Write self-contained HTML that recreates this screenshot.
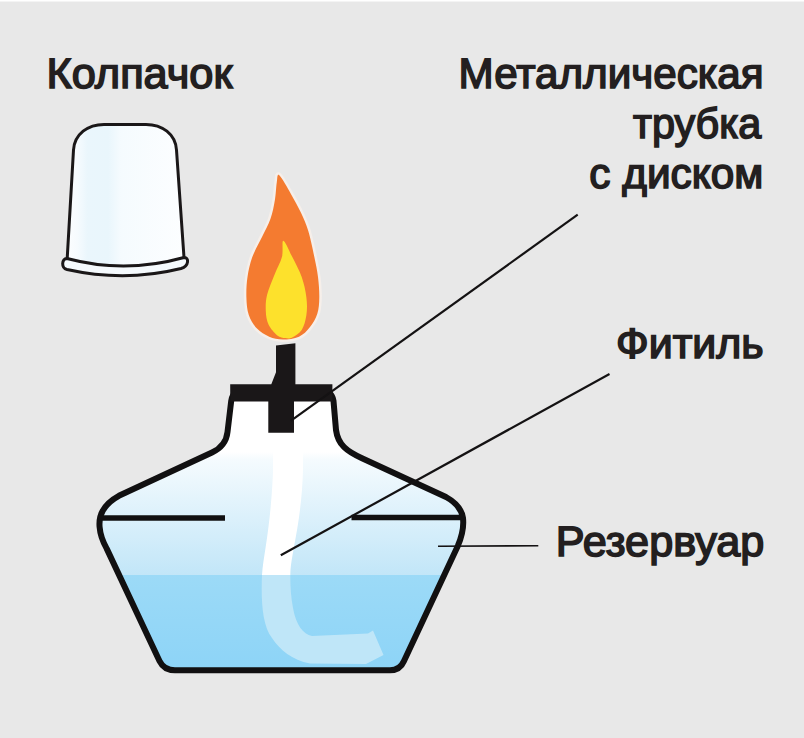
<!DOCTYPE html>
<html><head><meta charset="utf-8">
<style>
html,body{margin:0;padding:0;background:#e8e8e8;}
body{width:804px;height:738px;overflow:hidden;position:relative;}
svg{position:absolute;left:0;top:0;}
text{font-family:"Liberation Sans",sans-serif;fill:#231f20;text-rendering:geometricPrecision;}
</style></head><body>
<svg width="804" height="738" viewBox="0 0 804 738">
<defs>
  <linearGradient id="capg" x1="62" y1="0" x2="190" y2="0" gradientUnits="userSpaceOnUse">
    <stop offset="0" stop-color="#ffffff"/>
    <stop offset="0.12" stop-color="#f6fbfe"/>
    <stop offset="0.2" stop-color="#eaf6fc"/>
    <stop offset="0.36" stop-color="#e9f6fc"/>
    <stop offset="0.46" stop-color="#f5fbfe"/>
    <stop offset="1" stop-color="#fdfeff"/>
  </linearGradient>
  <linearGradient id="waterTop" x1="0" y1="452" x2="0" y2="575" gradientUnits="userSpaceOnUse">
    <stop offset="0" stop-color="#ffffff"/>
    <stop offset="0.06" stop-color="#f5fbfe"/>
    <stop offset="1" stop-color="#c2e6f8"/>
  </linearGradient>
  <linearGradient id="waterBot" x1="0" y1="575" x2="0" y2="672" gradientUnits="userSpaceOnUse">
    <stop offset="0" stop-color="#9cdaf7"/>
    <stop offset="1" stop-color="#8dd4f7"/>
  </linearGradient>
  <clipPath id="bodyclip"><path d="M230.5 388 L227.5 432 Q226 446 212 452.5 L118.9 495.8 C104 504 98.5 515 99.6 527 C100.3 536 103 542 106.7 548.6 L159.5 661 Q164 670.3 175 670.3 L390 670.3 Q400 670.3 404 661 L457.8 545.9 C462 536 464 527 463 518 C461.5 508 455 502 446 497 L362 458.3 C347 451.5 338 445 336 430 L332.5 388 Z"/></clipPath>
  <clipPath id="topclip"><rect x="0" y="0" width="804" height="575"/></clipPath>
  <clipPath id="botclip"><rect x="0" y="575" width="804" height="200"/></clipPath>
</defs>
<rect x="0" y="0" width="804" height="1.5" fill="#ffffff"/>

<!-- Cap -->
<path d="M67.2 258.5 L73.5 150 C74.5 134 88 124.4 104 124.4 L146 124.4 C162 124.4 175.5 134 176.5 150 L184 257.5 Q125 274 67.2 258.5 Z" fill="url(#capg)"/>
<path d="M67.2 258.5 L73.5 150 C74.5 134 88 124.4 104 124.4 L146 124.4 C162 124.4 175.5 134 176.5 150 L184 257.5" fill="none" stroke="#1a1718" stroke-width="3" stroke-linejoin="round"/>
<path d="M67 258.5 Q125 274 184 257.5 C189 257 189.5 266 181 268.5 Q125 282.4 67 269.5 C61 268 61.5 259 67 258.5 Z" fill="#f5fafd" stroke="#1a1718" stroke-width="3" stroke-linejoin="round"/>

<!-- Body fill -->
<g clip-path="url(#bodyclip)">
  <rect x="90" y="380" width="390" height="195" fill="url(#waterTop)"/>
  <rect x="90" y="575" width="390" height="100" fill="url(#waterBot)"/>
  <path d="M273 440 L273 470 C272.5 490 270 520 265.5 548 C264 558 262.5 566 262 575 C261 600 262 625 272 638 C280 650 292 660 310 663.5 L366 664 L383.5 655 L373 630.5 L368 633.5 L312 636 C303 634 296 625 293 608 C290.5 595 290 580 290.5 570 C291.5 558 295.5 540 298 524 C300.5 508 302.5 490 303 470 L303 440 Z" fill="#ffffff" clip-path="url(#topclip)"/>
  <path d="M273 440 L273 470 C272.5 490 270 520 265.5 548 C264 558 262.5 566 262 575 C261 600 262 625 272 638 C280 650 292 660 310 663.5 L366 664 L383.5 655 L373 630.5 L368 633.5 L312 636 C303 634 296 625 293 608 C290.5 595 290 580 290.5 570 C291.5 558 295.5 540 298 524 C300.5 508 302.5 490 303 470 L303 440 Z" fill="#bfe6f8" clip-path="url(#botclip)"/>
</g>

<!-- Flame -->
<path d="M279.3 175.3 C281.7 177.3 287.6 188.2 291.2 194.4 C294.8 200.6 298.1 206.6 301.0 212.7 C303.9 218.8 306.1 223.6 308.3 231.0 C310.5 238.4 312.8 249.6 314.4 257.3 C316.0 265.0 317.2 270.4 318.0 277.1 C318.8 283.8 319.4 291.3 319.3 297.4 C319.2 303.5 318.9 308.7 317.3 313.7 C315.7 318.7 312.9 323.5 309.8 327.3 C306.8 331.1 303.5 334.7 299.0 336.7 C294.5 338.7 287.7 339.5 282.7 339.5 C277.7 339.5 273.5 338.5 269.2 336.7 C264.9 334.9 260.4 332.2 257.0 328.6 C253.6 325.0 250.6 320.2 248.8 315.0 C247.0 309.8 246.6 303.7 246.4 297.4 C246.2 291.1 246.5 283.8 247.5 277.1 C248.5 270.4 249.8 264.0 252.2 257.3 C254.6 250.6 258.9 243.4 262.0 237.0 C265.1 230.6 268.4 224.9 270.5 218.8 C272.6 212.7 273.8 206.6 274.8 200.5 C275.9 194.4 276.1 186.4 276.8 182.2 C277.6 178.0 276.9 173.3 279.3 175.3Z" fill="none" stroke="#f6efea" stroke-width="5"/>
<path d="M279.3 175.3 C281.7 177.3 287.6 188.2 291.2 194.4 C294.8 200.6 298.1 206.6 301.0 212.7 C303.9 218.8 306.1 223.6 308.3 231.0 C310.5 238.4 312.8 249.6 314.4 257.3 C316.0 265.0 317.2 270.4 318.0 277.1 C318.8 283.8 319.4 291.3 319.3 297.4 C319.2 303.5 318.9 308.7 317.3 313.7 C315.7 318.7 312.9 323.5 309.8 327.3 C306.8 331.1 303.5 334.7 299.0 336.7 C294.5 338.7 287.7 339.5 282.7 339.5 C277.7 339.5 273.5 338.5 269.2 336.7 C264.9 334.9 260.4 332.2 257.0 328.6 C253.6 325.0 250.6 320.2 248.8 315.0 C247.0 309.8 246.6 303.7 246.4 297.4 C246.2 291.1 246.5 283.8 247.5 277.1 C248.5 270.4 249.8 264.0 252.2 257.3 C254.6 250.6 258.9 243.4 262.0 237.0 C265.1 230.6 268.4 224.9 270.5 218.8 C272.6 212.7 273.8 206.6 274.8 200.5 C275.9 194.4 276.1 186.4 276.8 182.2 C277.6 178.0 276.9 173.3 279.3 175.3Z" fill="#f47b30"/>
<path d="M283.3 240.7 C285.0 240.7 289.1 250.7 292.2 256.8 C295.3 262.9 299.3 270.3 301.7 277.1 C304.1 283.9 305.6 291.1 306.4 297.4 C307.2 303.7 307.2 309.6 306.4 315.0 C305.6 320.4 304.1 326.3 301.7 330.0 C299.3 333.7 294.9 336.0 292.2 337.4 C289.5 338.8 287.9 338.4 285.4 338.1 C282.9 337.8 280.1 337.7 277.3 335.4 C274.5 333.1 270.4 328.6 268.5 324.5 C266.6 320.4 266.0 316.0 265.8 311.0 C265.6 306.0 265.6 300.8 267.1 294.7 C268.6 288.6 272.1 280.7 274.6 274.4 C277.1 268.1 280.6 262.4 282.0 256.8 C283.4 251.2 281.6 240.7 283.3 240.7Z" fill="#fde12c"/>

<!-- Body outline -->
<path d="M248 389.5 Q232.5 389.5 231.2 401 L227.5 432 Q226 446 212 452.5 L118.9 495.8 C104 504 98.5 515 99.6 527 C100.3 536 103 542 106.7 548.6 L159.5 661 Q164 670.3 175 670.3 L390 670.3 Q400 670.3 404 661 L457.8 545.9 C462 536 464 527 463 518 C461.5 508 455 502 446 497 L362 458.3 C347 451.5 338 445 336 430 L333.5 401 Q332 389.5 316 389.5" fill="none" stroke="#111011" stroke-width="6" stroke-linejoin="round"/>

<!-- Wick tube -->
<path d="M276 345.4 L295.4 343.2 L295.4 384.3 L332.4 384.3 L332.4 401.4 L294 401.4 L294 432.8 L268.3 432.8 L268.3 401.4 L230.2 401.4 L230.2 384.3 L271.3 384.3 L276 372.3 Z" fill="#1a1718"/>

<!-- Liquid level -->
<line x1="100" y1="518" x2="225" y2="518" stroke="#111011" stroke-width="5.6"/>
<line x1="351.5" y1="517.5" x2="462" y2="517.5" stroke="#111011" stroke-width="5.6"/>

<!-- Leader lines -->
<line x1="577.7" y1="214.7" x2="290.7" y2="420.8" stroke="#141213" stroke-width="2.2"/>
<line x1="609.5" y1="374" x2="280.8" y2="555.3" stroke="#141213" stroke-width="2.2"/>
<line x1="438" y1="546.3" x2="538.3" y2="545.7" stroke="#141213" stroke-width="1.6"/>

<!-- Labels -->
<g font-size="42.6" stroke="#231f20" stroke-width="1.6" letter-spacing="0">
<text transform="translate(46.47 88.48) scale(1.0171 1)">Колпачок</text>
<text transform="translate(458.53 88.48) scale(0.9902 1)">Металлическая</text>
<text transform="translate(633.01 138.28) scale(0.9705 1)">трубка</text>
<text transform="translate(589.28 188.28) scale(0.9933 1)">с диском</text>
<text transform="translate(616.02 358.48) scale(1.0078 1)">Фитиль</text>
<text transform="translate(555.78 555.68) scale(1.0146 1)">Резервуар</text>
</g>
</svg>
</body></html>
